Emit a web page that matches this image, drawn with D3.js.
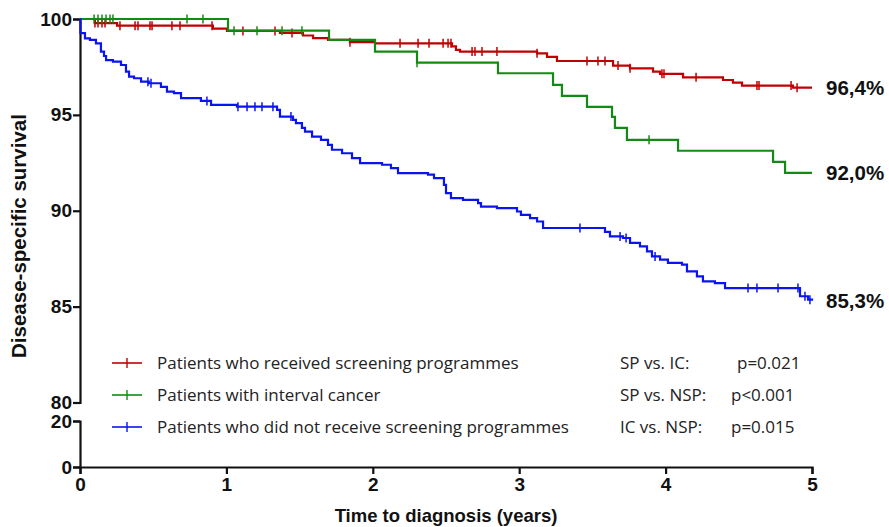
<!DOCTYPE html>
<html>
<head>
<meta charset="utf-8">
<script src="https://cdn.jsdelivr.net/npm/d3@7"></script>
<style>
  html, body { margin: 0; padding: 0; background: #fff; }
  svg { display: block; }
</style>
</head>
<body>
<svg id="chart" width="889" height="527"></svg>
<script>
// ---------- DATA ----------
const xTicks = [0, 1, 2, 3, 4, 5];
const upperTicks = [80, 85, 90, 95, 100];
const lowerTicks = [0, 20];

const seriesNames = ["SP", "IC", "NSP"];
const legendLabels = [
  "Patients who received screening programmes",
  "Patients with interval cancer",
  "Patients who did not receive screening programmes"
];
const pLabels = ["SP vs. IC:", "SP vs. NSP:", "IC vs. NSP:"];
const pValues = ["p=0.021", "p<0.001", "p=0.015"];
const endLabels = ["96,4%", "92,0%", "85,3%"];
const endValues = [96.4, 92.0, 85.3];

const spTime = [0, 0.102, 0.253, 0.908, 1.004, 1.366, 1.523, 1.592, 1.694, 1.844, 2.015, 2.541, 2.568, 2.596, 3.122, 3.190, 3.258, 3.641, 3.757, 3.914, 3.962, 4.119, 4.392, 4.460, 4.522, 4.870, 5];
const spSurv = [100, 99.79, 99.65, 99.50, 99.38, 99.27, 99.14, 99.00, 98.91, 98.79, 98.73, 98.57, 98.39, 98.30, 98.21, 98.02, 97.81, 97.57, 97.43, 97.26, 97.14, 96.96, 96.82, 96.68, 96.53, 96.42, 96.42];
const spCensor = [0.102, 0.123, 0.150, 0.171, 0.273, 0.376, 0.396, 0.478, 0.492, 0.628, 0.683, 0.902, 1.113, 1.332, 1.448, 1.844, 2.186, 2.309, 2.384, 2.480, 2.514, 2.534, 2.678, 2.698, 2.746, 2.848, 3.122, 3.463, 3.538, 3.586, 3.675, 3.757, 3.975, 3.989, 4.208, 4.624, 4.638, 4.857, 4.898];

const icTime = [0, 1.011, 1.701, 2.015, 2.302, 2.855, 3.231, 3.292, 3.463, 3.634, 3.654, 3.736, 4.085, 4.734, 4.816, 5];
const icSurv = [100, 99.39, 98.91, 98.30, 97.72, 97.17, 96.56, 95.99, 95.42, 94.90, 94.32, 93.70, 93.13, 92.55, 91.98, 91.98];
const icCensor = [0.096, 0.123, 0.150, 0.178, 0.205, 0.225, 0.731, 0.840, 1.052, 1.209, 1.380, 1.516, 2.302, 3.887];

const nspTime = [0, 0.003, 0.034, 0.068, 0.109, 0.143, 0.164, 0.178, 0.225, 0.280, 0.314, 0.335, 0.369, 0.417, 0.470, 0.553, 0.594, 0.642, 0.690, 0.826, 0.895, 1.072, 1.346, 1.366, 1.455, 1.475, 1.516, 1.537, 1.585, 1.646, 1.694, 1.721, 1.790, 1.858, 1.913, 2.063, 2.124, 2.172, 2.377, 2.418, 2.486, 2.500, 2.534, 2.616, 2.719, 2.739, 2.848, 2.985, 3.012, 3.074, 3.122, 3.163, 3.586, 3.620, 3.709, 3.757, 3.825, 3.873, 3.907, 3.962, 4.016, 4.112, 4.146, 4.214, 4.255, 4.337, 4.406, 4.918, 4.973, 5];
const nspSurv = [100, 99.26, 98.99, 98.91, 98.73, 98.30, 98.07, 97.86, 97.78, 97.60, 97.26, 97.00, 96.91, 96.73, 96.65, 96.46, 96.21, 96.13, 95.87, 95.73, 95.52, 95.43, 95.26, 94.91, 94.74, 94.57, 94.32, 94.13, 93.87, 93.70, 93.44, 93.18, 93.00, 92.74, 92.48, 92.40, 92.22, 91.96, 91.88, 91.70, 91.35, 90.92, 90.66, 90.57, 90.40, 90.22, 90.14, 89.96, 89.79, 89.62, 89.44, 89.10, 88.90, 88.66, 88.58, 88.32, 88.14, 87.88, 87.62, 87.45, 87.28, 87.19, 86.84, 86.58, 86.32, 86.23, 85.97, 85.54, 85.36, 85.30];
const nspCensor = [0.464, 0.485, 0.867, 1.079, 1.141, 1.195, 1.243, 1.318, 1.441, 3.415, 3.689, 3.730, 3.928, 4.563, 4.624, 4.768, 4.904, 4.952, 4.986];

const colors = ["#c00000", "#138a13", "#0a14f0"];

// ---------- SCALES ----------
const svg = d3.select("#chart");
const x = d3.scaleLinear().domain([0, 5]).range([80, 812]);
const yU = d3.scaleLinear().domain([80, 100]).range([402.5, 19]);
const yL = d3.scaleLinear().domain([0, 20]).range([467, 421]);

const series = [
  { t: spTime, s: spSurv, c: spCensor },
  { t: icTime, s: icSurv, c: icCensor },
  { t: nspTime, s: nspSurv, c: nspCensor }
];

// ---------- AXES ----------
const tickFont = "'Liberation Sans', Arial, sans-serif";
function styleAxis(g) {
  g.selectAll(".domain").attr("stroke", "#111").attr("stroke-width", 2.2);
  g.selectAll(".tick line").attr("stroke", "#111").attr("stroke-width", 2.2);
  g.selectAll(".tick text").attr("fill", "#111").style("font-family", tickFont)
    .style("font-weight", "bold").style("font-size", "19px");
}

const gxa = svg.append("g").attr("transform", "translate(0,467)")
  .call(d3.axisBottom(x).tickValues(xTicks).tickFormat(d3.format("d")).tickSizeOuter(0).tickSize(7).tickPadding(4));
styleAxis(gxa);

const gyu = svg.append("g").attr("transform", "translate(80,0)")
  .call(d3.axisLeft(yU).tickValues(upperTicks).tickSizeOuter(0).tickSize(7).tickPadding(1));
styleAxis(gyu);

const gyl = svg.append("g").attr("transform", "translate(80,0)")
  .call(d3.axisLeft(yL).tickValues(lowerTicks).tickSizeOuter(0).tickSize(7).tickPadding(1));
styleAxis(gyl);

// ---------- CURVES ----------
const line = d3.line().x(d => x(d[0])).y(d => yU(d[1])).curve(d3.curveStepAfter);

function survAt(sr, t) {
  const i = d3.bisectRight(sr.t, t) - 1;
  return sr.s[Math.max(0, i)];
}

series.forEach((sr, k) => {
  const pts = sr.t.map((t, i) => [t, sr.s[i]]);
  svg.append("path").datum(pts)
    .attr("d", line).attr("fill", "none")
    .attr("stroke", colors[k]).attr("stroke-width", 2.2);
  svg.append("g").selectAll("line").data(sr.c).join("line")
    .attr("x1", d => x(d)).attr("x2", d => x(d))
    .attr("y1", d => yU(survAt(sr, d)) - 4.5)
    .attr("y2", d => yU(survAt(sr, d)) + 4.5)
    .attr("stroke", colors[k]).attr("stroke-width", 1.5);
});

// end labels
svg.append("g").selectAll("text").data(endLabels).join("text")
  .attr("x", 826).attr("y", (d, i) => yU(endValues[i]))
  .attr("dy", "0.36em")
  .style("font-family", tickFont).style("font-weight", "bold").style("font-size", "20.5px")
  .attr("fill", "#111").text(d => d);

// ---------- LEGEND ----------
const legFont = "'Open Sans', 'Liberation Sans', sans-serif";
const legY = [363, 395, 427];
const lg = svg.append("g");
legendLabels.forEach((lab, i) => {
  const y = legY[i];
  lg.append("line").attr("x1", 112).attr("x2", 142).attr("y1", y).attr("y2", y)
    .attr("stroke", colors[i]).attr("stroke-width", 1.6);
  lg.append("line").attr("x1", 127).attr("x2", 127).attr("y1", y - 5).attr("y2", y + 5)
    .attr("stroke", colors[i]).attr("stroke-width", 1.4);
  lg.append("text").attr("x", 157).attr("y", y).attr("dy", "0.36em")
    .style("font-family", legFont).style("font-size", "17px").attr("fill", "#222").text(lab);
  lg.append("text").attr("x", 620).attr("y", y).attr("dy", "0.36em")
    .style("font-family", legFont).style("font-size", "17px").attr("fill", "#222").text(pLabels[i]);
  lg.append("text").attr("x", i === 0 ? 737 : 731).attr("y", y).attr("dy", "0.36em")
    .style("font-family", legFont).style("font-size", "17px").attr("fill", "#222").text(pValues[i]);
});

// ---------- TITLES ----------
svg.append("text").attr("x", 446).attr("y", 522).attr("text-anchor", "middle")
  .style("font-family", tickFont).style("font-weight", "bold").style("font-size", "18.5px")
  .attr("fill", "#111").text("Time to diagnosis (years)");

svg.append("text").attr("transform", "translate(26,236) rotate(-90)").attr("text-anchor", "middle")
  .style("font-family", tickFont).style("font-weight", "bold").style("font-size", "20.5px")
  .attr("fill", "#111").text("Disease-specific survival");
</script>
</body>
</html>
